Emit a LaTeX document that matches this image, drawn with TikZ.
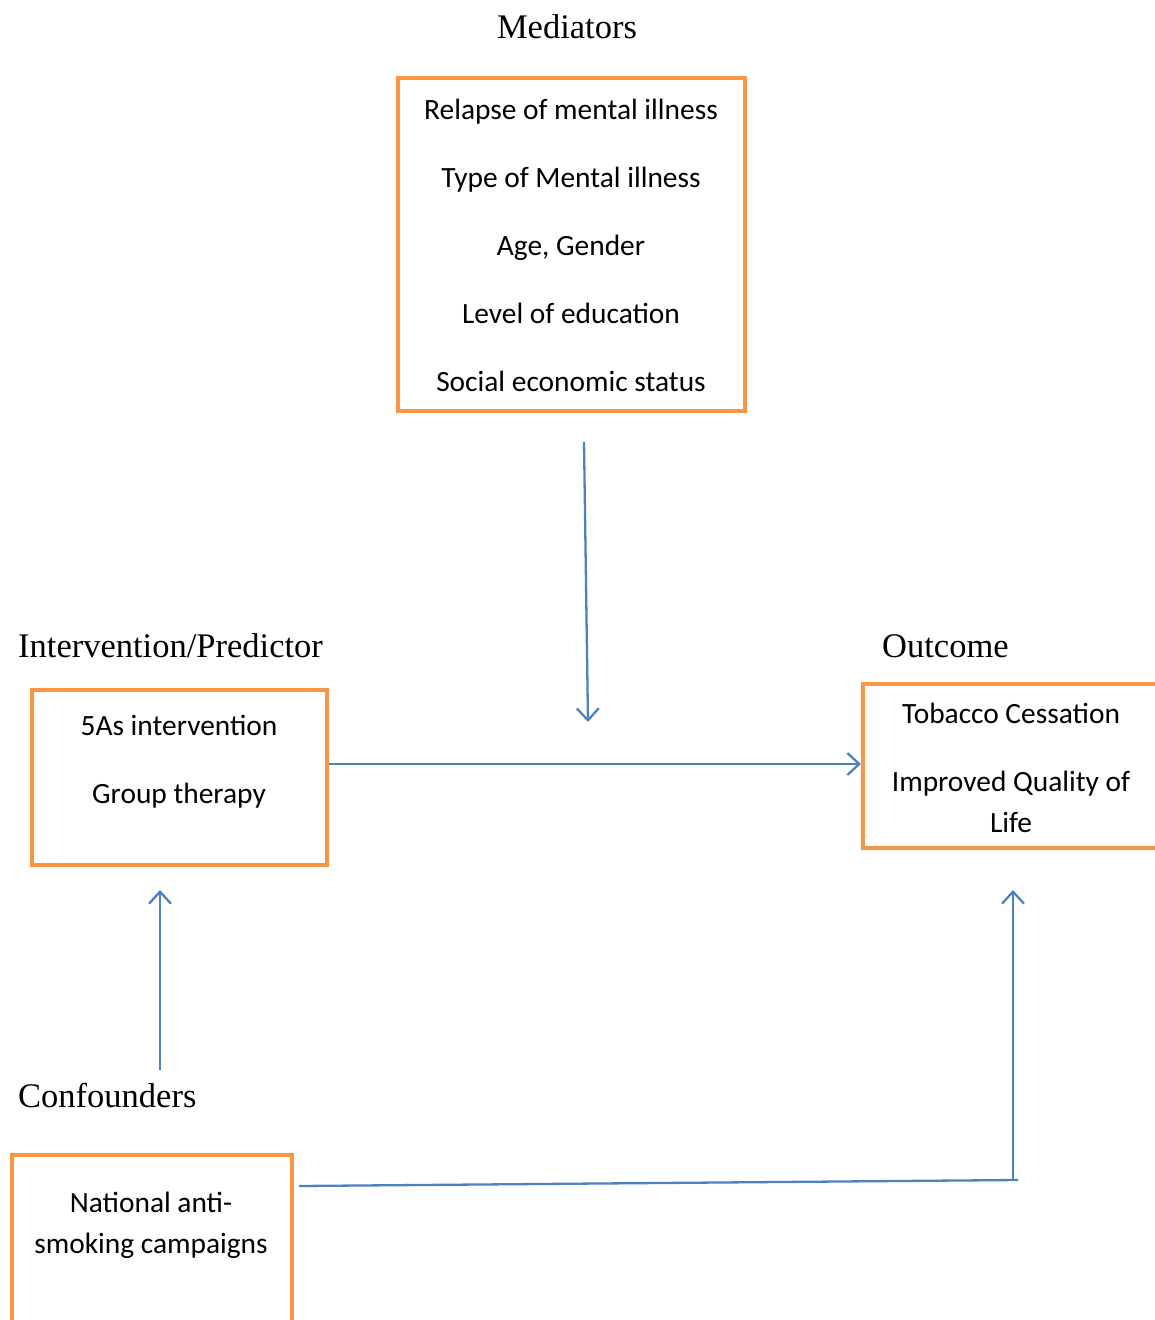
\documentclass[tikz,border=0pt]{standalone}
\usepackage{fontspec}
\setmainfont{Carlito}
\newfontfamily\headfont{Liberation Serif}
\usetikzlibrary{arrows.meta}
\definecolor{boxorange}{HTML}{F79646}
\definecolor{linkblue}{HTML}{4F81BD}

\begin{document}
\begin{tikzpicture}[
  x=1pt, y=-1pt,
  >={Straight Barb[length=12pt,width=22pt]},
  frame/.style={draw=boxorange, line width=4pt, inner sep=0pt},
  txt/.style={align=center, inner sep=0pt, font=\fontsize{29.4}{41}\selectfont},
  head/.style={inner sep=0pt, font=\headfont\fontsize{34.5}{38}\selectfont},
  link/.style={draw=linkblue, line width=2.3pt},
]
\useasboundingbox (0,0) rectangle (1155,1320);
\clip (0,0) rectangle (1155,1320);

% headings
\node[head] (medhead) at (567,27) {Mediators};
\node[head, anchor=west] (intervhead) at (18,646) {Intervention/Predictor};
\node[head, anchor=west] (outhead) at (882,646) {Outcome};
\node[head, anchor=west] (confhead) at (18,1096) {Confounders};

% boxes
\node[frame, minimum width=347, minimum height=333] (med) at (571.5,244.5) {};
\node[txt] (medtxt) at (571,245) {Relapse of mental illness\\[27pt]Type of Mental illness\\[27pt]Age, Gender\\[27pt]Level of education\\[27pt]Social economic status};

\node[frame, minimum width=295, minimum height=175] (interv) at (179.5,777.5) {};
\node[txt] (intervtxt) at (179,762) {5As intervention\\[27pt]Group therapy};

\node[frame, minimum width=320, minimum height=164] (outcome) at (1023,766) {};
\node[txt] (outtxt) at (1011,768) {Tobacco Cessation\\[27pt]Improved Quality of\\Life};

\node[frame, minimum width=280, minimum height=300] (conf) at (152,1305) {};
\node[txt] (conftxt) at (151,1225) {National anti-\\smoking campaigns};

% connectors
\coordinate (medfrom) at (584,442);
\coordinate (medto) at (588,722);
\coordinate (confup) at (160,1070);
\coordinate (intervbelow) at (160,890);
\coordinate (confright) at (299,1186);
\coordinate (corner) at (1018,1180);
\coordinate (cornerup) at (1013,1180);
\coordinate (outbelow) at (1013,890);

\draw[link,->] (medfrom) -- (medto);
\draw[link,->] ([yshift=13.5pt]interv.east) -- ([yshift=2pt]outcome.west);
\draw[link,->] (confup) -- (intervbelow);
\draw[link] (confright) -- (corner);
\draw[link,->] (cornerup) -- (outbelow);
\end{tikzpicture}
\end{document}
